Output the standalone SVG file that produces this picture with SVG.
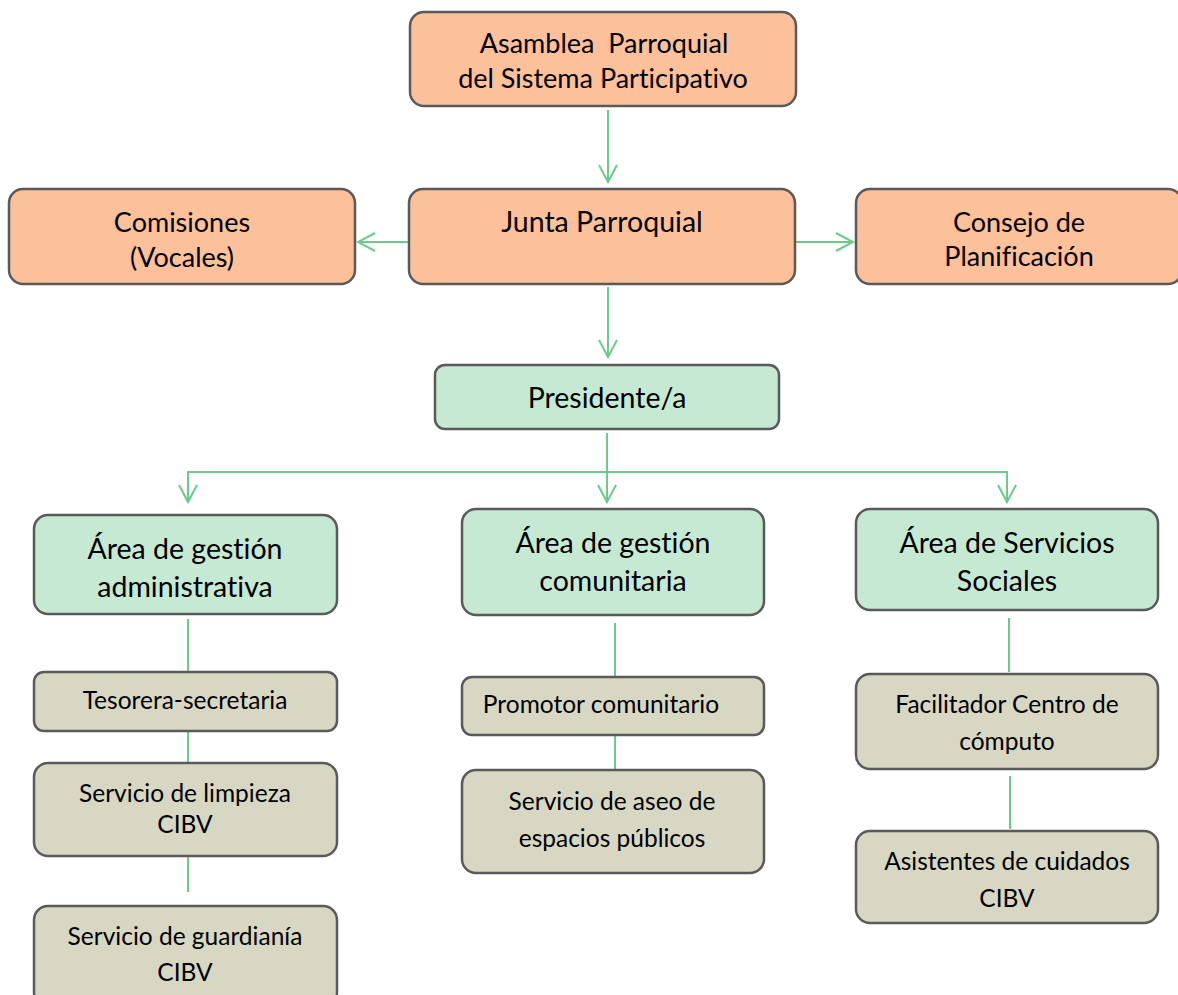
<svg xmlns="http://www.w3.org/2000/svg" width="1178" height="995" viewBox="0 0 1178 995">
<style>
.box{stroke:#5a5a5a;stroke-width:2.5}
.o{fill:#fcc19b}
.g{fill:#c6e9d3}
.t{fill:#d7d7c4}
text{font-family:Lato,"Liberation Sans",sans-serif;fill:#000;text-anchor:middle;font-variant-ligatures:none;font-feature-settings:"liga" 0,"dlig" 0;white-space:pre}
.f31{font-size:28.5px}
.f28{font-size:27px}
.f26{font-size:24.5px}
.c{stroke:#6cca8c;stroke-width:2;fill:none}
</style>
<defs>
<marker id="ah" viewBox="0 0 20 20" refX="18" refY="10" markerWidth="20" markerHeight="20" markerUnits="userSpaceOnUse" orient="auto">
<path d="M1,1 L18,10 L1,19" fill="none" stroke="#6cca8c" stroke-width="2"/>
</marker>
</defs>
<g id="connectors">
<line class="c" x1="608" y1="110" x2="608" y2="182" marker-end="url(#ah)"/>
<line class="c" x1="409" y1="242" x2="358" y2="242" marker-end="url(#ah)"/>
<line class="c" x1="795" y1="242" x2="853" y2="242" marker-end="url(#ah)"/>
<line class="c" x1="608" y1="287" x2="608" y2="357" marker-end="url(#ah)"/>
<line class="c" x1="607" y1="433" x2="607" y2="502" marker-end="url(#ah)"/>
<polyline class="c" points="188,502 188,472 1007,472 1007,502"/>
<line class="c" x1="188" y1="472" x2="188" y2="502" marker-end="url(#ah)"/>
<line class="c" x1="1007" y1="472" x2="1007" y2="502" marker-end="url(#ah)"/>
<line class="c" x1="188" y1="619" x2="188" y2="673"/>
<line class="c" x1="188" y1="730" x2="188" y2="763"/>
<line class="c" x1="188" y1="856" x2="188" y2="892"/>
<line class="c" x1="615" y1="623" x2="615" y2="677"/>
<line class="c" x1="615" y1="735" x2="615" y2="769"/>
<line class="c" x1="1009" y1="618" x2="1009" y2="672"/>
<line class="c" x1="1010" y1="776" x2="1010" y2="829"/>
</g>
<g id="asamblea">
<rect class="box o" x="410" y="12" width="386" height="94" rx="14"/>
<text class="f28" x="604" y="53" xml:space="preserve">Asamblea  Parroquial</text>
<text class="f28" x="603" y="88">del Sistema Participativo</text>
</g>
<g id="junta">
<rect class="box o" x="409" y="189" width="386" height="95" rx="14"/>
<text class="f31" x="602" y="232">Junta Parroquial</text>
</g>
<g id="comisiones">
<rect class="box o" x="9" y="189" width="346" height="95" rx="14"/>
<text class="f28" x="182" y="232">Comisiones</text>
<text class="f28" x="182" y="267">(Vocales)</text>
</g>
<g id="consejo">
<rect class="box o" x="856" y="189" width="326" height="95" rx="14"/>
<text class="f28" x="1019" y="232">Consejo de</text>
<text class="f28" x="1019" y="266">Planificación</text>
</g>
<g id="presidente">
<rect class="box g" x="435" y="365" width="344" height="64" rx="10"/>
<text class="f31" x="607" y="408">Presidente/a</text>
</g>
<g id="area-admin">
<rect class="box g" x="34" y="515" width="303" height="99" rx="14"/>
<text class="f31" x="185" y="559">Área de gestión</text>
<text class="f31" x="185" y="597">administrativa</text>
</g>
<g id="area-comunitaria">
<rect class="box g" x="462" y="509" width="302" height="106" rx="14"/>
<text class="f31" x="613" y="553">Área de gestión</text>
<text class="f31" x="613" y="591">comunitaria</text>
</g>
<g id="area-social">
<rect class="box g" x="856" y="509" width="302" height="101" rx="14"/>
<text class="f31" x="1007" y="553">Área de Servicios</text>
<text class="f31" x="1007" y="591">Sociales</text>
</g>
<g id="tesorera">
<rect class="box t" x="34" y="672" width="303" height="59" rx="10"/>
<text class="f26" x="185" y="709">Tesorera-secretaria</text>
</g>
<g id="limpieza">
<rect class="box t" x="34" y="763" width="303" height="93" rx="14"/>
<text class="f26" x="185" y="802">Servicio de limpieza</text>
<text class="f26" x="185" y="833">CIBV</text>
</g>
<g id="guardiania">
<rect class="box t" x="34" y="906" width="303" height="100" rx="14"/>
<text class="f26" x="185" y="945">Servicio de guardianía</text>
<text class="f26" x="185" y="981">CIBV</text>
</g>
<g id="promotor">
<rect class="box t" x="462" y="677" width="302" height="58" rx="10"/>
<text class="f26" x="601" y="713">Promotor comunitario</text>
</g>
<g id="aseo">
<rect class="box t" x="462" y="770" width="302" height="103" rx="14"/>
<text class="f26" x="612" y="810">Servicio de aseo de</text>
<text class="f26" x="612" y="847">espacios públicos</text>
</g>
<g id="facilitador">
<rect class="box t" x="856" y="674" width="302" height="95" rx="14"/>
<text class="f26" x="1007" y="713">Facilitador Centro de</text>
<text class="f26" x="1007" y="750">cómputo</text>
</g>
<g id="asistentes">
<rect class="box t" x="856" y="831" width="302" height="92" rx="14"/>
<text class="f26" x="1007" y="870">Asistentes de cuidados</text>
<text class="f26" x="1007" y="907">CIBV</text>
</g>
</svg>
